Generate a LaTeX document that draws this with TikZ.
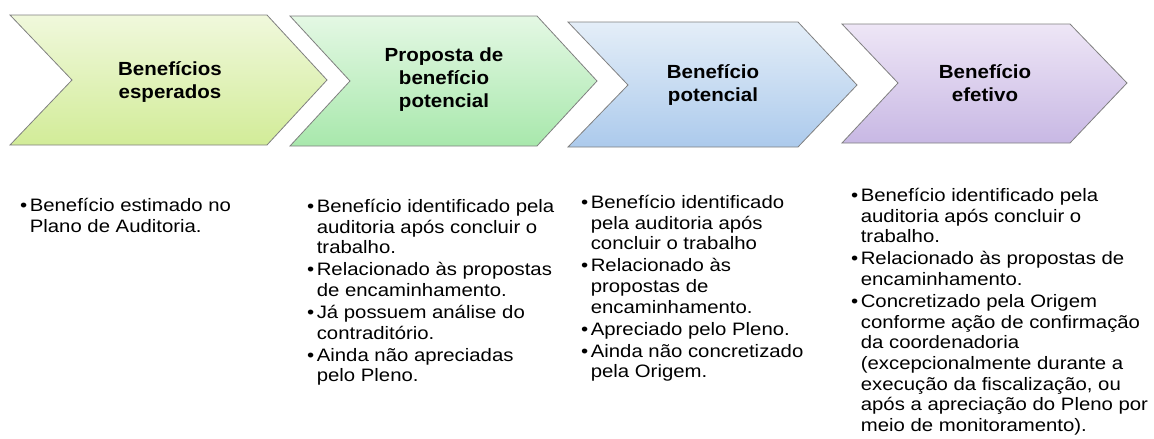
\documentclass[tikz,border=0pt]{standalone}
\usepackage{fontspec}
\setmainfont{Liberation Sans}
\newfontfamily\titlefont{Liberation Sans}[FakeStretch=1.08]
\newfontfamily\listfont{Liberation Sans}[FakeStretch=1.13]
\usepackage{xcolor}

\definecolor{yelTop}{RGB}{240,248,220}
\definecolor{yelBot}{RGB}{210,236,152}
\definecolor{grnTop}{RGB}{228,248,228}
\definecolor{grnBot}{RGB}{168,232,172}
\definecolor{bluTop}{RGB}{228,238,248}
\definecolor{bluBot}{RGB}{172,202,236}
\definecolor{vioTop}{RGB}{238,230,246}
\definecolor{vioBot}{RGB}{200,184,228}
\definecolor{edge}{RGB}{128,128,128}

\tikzset{
  chevron/.style={draw=edge, line width=0.8pt},
  title/.style={align=center, font=\titlefont\fontsize{19}{23}\selectfont\bfseries},
  bullets/.style={anchor=north west, inner sep=0pt, font=\listfont\fontsize{18}{20.6}\selectfont}
}

\newcommand{\blist}[1]{\begin{tabular}{@{}l@{\hspace{2.5pt}}l@{}}#1\end{tabular}}

\begin{document}
\begin{tikzpicture}[x=1pt,y=-1pt]
\useasboundingbox (0,0) rectangle (1154,439);

\shade[chevron, top color=yelTop, bottom color=yelBot] (10,15) -- (267,15) -- (327,80) -- (267,145) -- (10,145) -- (72,80) -- cycle;
\shade[chevron, top color=grnTop, bottom color=grnBot] (290,16) -- (537,16) -- (597,81) -- (537,146) -- (290,146) -- (350,81) -- cycle;
\shade[chevron, top color=bluTop, bottom color=bluBot] (568,22) -- (798,22) -- (857,85) -- (798,147) -- (568,147) -- (628,85) -- cycle;
\shade[chevron, top color=vioTop, bottom color=vioBot] (842,24) -- (1070,24) -- (1127,83) -- (1070,143) -- (842,143) -- (898,83) -- cycle;

\node[title] (esperados) at (170,82) {Benefícios\\esperados};
\node[title] (proposta) at (444,80) {Proposta de\\benefício\\potencial};
\node[title] (potencial) at (713,85) {Benefício\\potencial};
\node[title] (efetivo) at (985,83) {Benefício\\efetivo};

\node[bullets] (listaEsperados) at (20,197) {\blist{
  \textbullet & Benefício estimado no\\
  & Plano de Auditoria.}};
\node[bullets] (listaProposta) at (307,198) {\blist{
  \textbullet & Benefício identificado pela\\
  & auditoria após concluir o\\
  & trabalho.\\[1.5pt]
  \textbullet & Relacionado às propostas\\
  & de encaminhamento.\\[1.5pt]
  \textbullet & Já possuem análise do\\
  & contraditório.\\[1.5pt]
  \textbullet & Ainda não apreciadas\\
  & pelo Pleno.}};
\node[bullets] (listaPotencial) at (581,194) {\blist{
  \textbullet & Benefício identificado\\
  & pela auditoria após\\
  & concluir o trabalho\\[1.5pt]
  \textbullet & Relacionado às\\
  & propostas de\\
  & encaminhamento.\\[1.5pt]
  \textbullet & Apreciado pelo Pleno.\\[1.5pt]
  \textbullet & Ainda não concretizado\\
  & pela Origem.}};
\node[bullets] (listaEfetivo) at (851,187) {\blist{
  \textbullet & Benefício identificado pela\\
  & auditoria após concluir o\\
  & trabalho.\\[1.5pt]
  \textbullet & Relacionado às propostas de\\
  & encaminhamento.\\[1.5pt]
  \textbullet & Concretizado pela Origem\\
  & conforme ação de confirmação\\
  & da coordenadoria\\
  & (excepcionalmente durante a\\
  & execução da fiscalização, ou\\
  & após a apreciação do Pleno por\\
  & meio de monitoramento).}};
\end{tikzpicture}
\end{document}
